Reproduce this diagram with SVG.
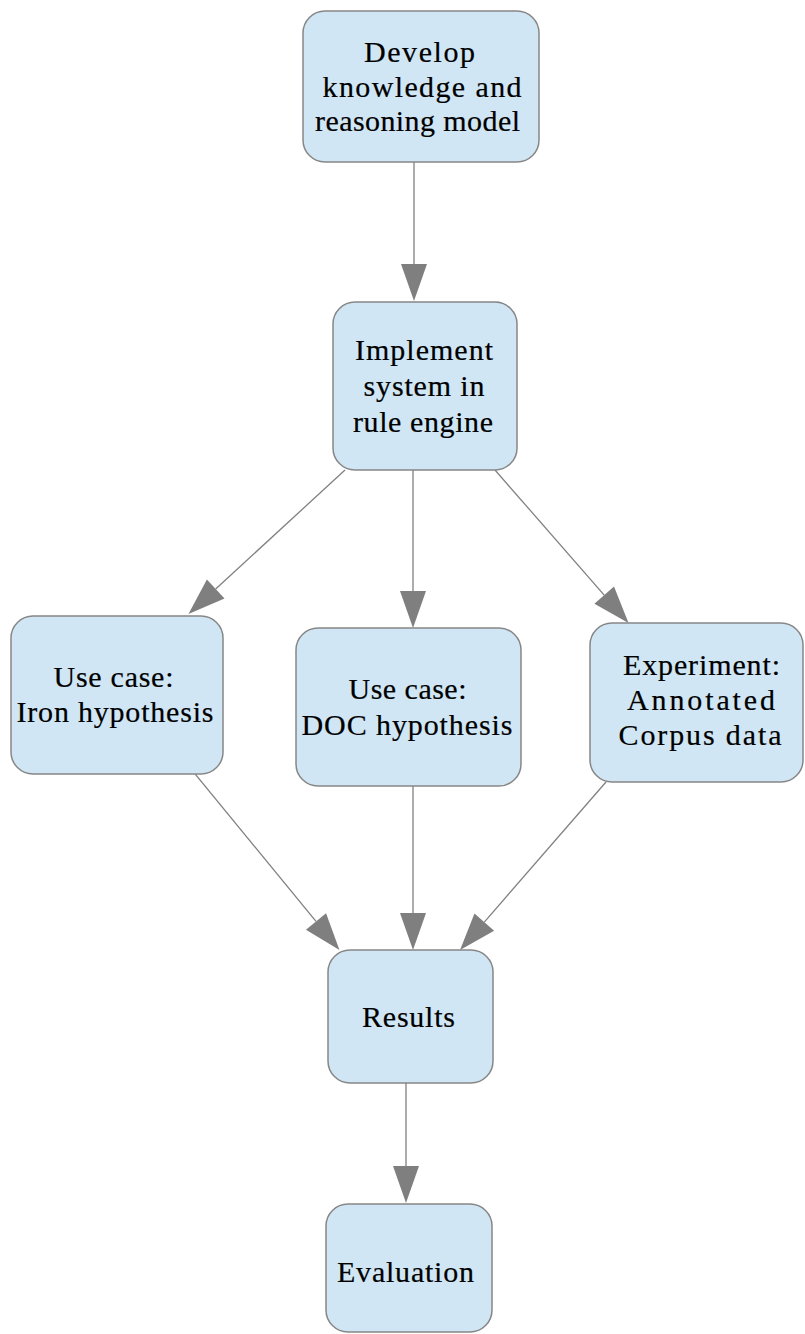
<svg xmlns="http://www.w3.org/2000/svg" width="805" height="1334" viewBox="0 0 805 1334">
  <style>
    .box { fill: #d0e6f4; stroke: #878787; stroke-width: 1.5; }
    text { font-family: 'Liberation Serif', 'DejaVu Serif', serif; font-size: 30px; fill: #000; text-anchor: middle; stroke: #000; stroke-width: 0.2; }
    .edge { stroke: #808080; stroke-width: 1.3; fill: none; marker-end: url(#arrow); }
  </style>
  <defs>
    <marker id="arrow" markerUnits="userSpaceOnUse" viewBox="0 0 38 26" markerWidth="38" markerHeight="26" refX="0" refY="13" orient="auto" overflow="visible">
      <path d="M0,0 L37,13 L0,26 z" fill="#7f7f7f"/>
    </marker>
  </defs>
  <rect width="805" height="1334" fill="#ffffff"/>

  <g id="connectors">
    <line class="edge" x1="414" y1="162" x2="414" y2="264"/>
    <line class="edge" x1="345" y1="470" x2="215.7" y2="589"/>
    <line class="edge" x1="413" y1="470" x2="413" y2="591"/>
    <line class="edge" x1="495" y1="470" x2="604.2" y2="595.1"/>
    <line class="edge" x1="182" y1="758" x2="316" y2="921.4"/>
    <line class="edge" x1="413" y1="786" x2="413" y2="913"/>
    <line class="edge" x1="606" y1="782" x2="484.3" y2="922.1"/>
    <line class="edge" x1="406" y1="1083" x2="406" y2="1166"/>
  </g>

  <g id="develop-model">
    <rect class="box" x="303" y="11" width="236" height="151" rx="22"/>
    <text x="419.5" y="62" textLength="111" lengthAdjust="spacing">Develop</text>
    <text x="422" y="97" textLength="199" lengthAdjust="spacing">knowledge and</text>
    <text x="417.5" y="131" textLength="205" lengthAdjust="spacing">reasoning model</text>
  </g>

  <g id="implement-system">
    <rect class="box" x="333" y="302" width="184" height="168" rx="22"/>
    <text x="424" y="360" textLength="138" lengthAdjust="spacing">Implement</text>
    <text x="424" y="396" textLength="121" lengthAdjust="spacing">system in</text>
    <text x="423" y="432" textLength="140" lengthAdjust="spacing">rule engine</text>
  </g>

  <g id="iron-hypothesis">
    <rect class="box" x="11" y="616" width="212" height="158" rx="22"/>
    <text x="113.5" y="687" textLength="120" lengthAdjust="spacing">Use case:</text>
    <text x="115" y="722" textLength="197" lengthAdjust="spacing">Iron hypothesis</text>
  </g>

  <g id="doc-hypothesis">
    <rect class="box" x="296" y="628" width="225" height="158" rx="22"/>
    <text x="407.5" y="699" textLength="118" lengthAdjust="spacing">Use case:</text>
    <text x="407" y="735" textLength="211" lengthAdjust="spacing">DOC hypothesis</text>
  </g>

  <g id="corpus-experiment">
    <rect class="box" x="590" y="623" width="213" height="159" rx="22"/>
    <text x="701.5" y="675" textLength="157" lengthAdjust="spacing">Experiment:</text>
    <text x="701" y="710" textLength="148" lengthAdjust="spacing">Annotated</text>
    <text x="700" y="745" textLength="163" lengthAdjust="spacing">Corpus data</text>
  </g>

  <g id="results">
    <rect class="box" x="328" y="950" width="165" height="133" rx="22"/>
    <text x="408.5" y="1027" textLength="93" lengthAdjust="spacing">Results</text>
  </g>

  <g id="evaluation">
    <rect class="box" x="326" y="1204" width="166" height="128" rx="22"/>
    <text x="405.5" y="1282" textLength="137" lengthAdjust="spacing">Evaluation</text>
  </g>
</svg>
